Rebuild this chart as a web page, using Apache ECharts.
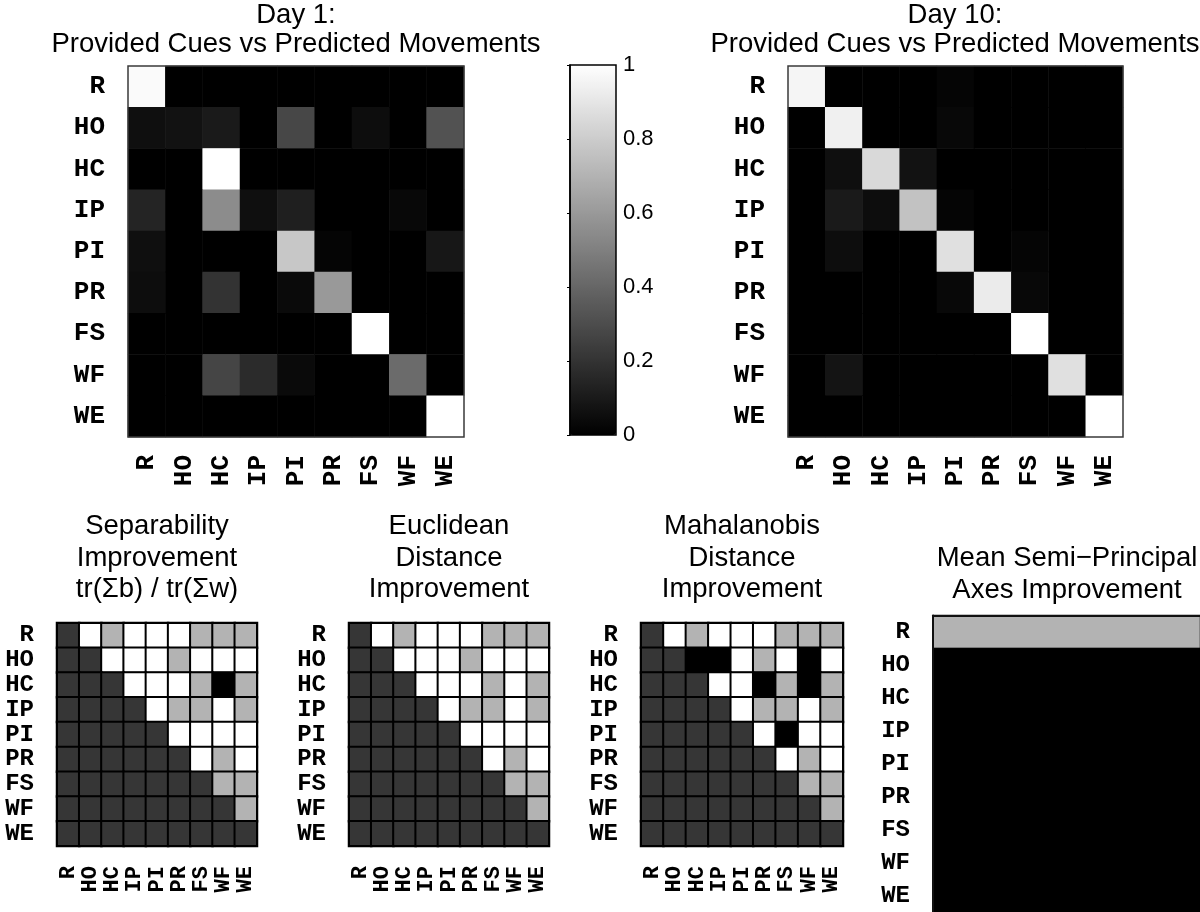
<!DOCTYPE html>
<html><head><meta charset="utf-8">
<script src="https://cdn.jsdelivr.net/npm/echarts/dist/echarts.min.js"></script>
<style>html,body{margin:0;padding:0;background:#fff}#c{width:1200px;height:912px}</style>
</head><body><div id="c"></div>
<script>
const labels = ['R','HO','HC','IP','PI','PR','FS','WF','WE'];
const colorbarTicks = [0, 0.2, 0.4, 0.6, 0.8, 1];

// Day 1 confusion matrix (rows: provided cue, cols: predicted movement)
const day1 = [
  [0.98,0,0,0,0,0,0,0,0],
  [0.06,0.07,0.10,0,0.28,0,0.05,0,0.32],
  [0,0,1.00,0,0,0,0,0,0],
  [0.14,0,0.55,0.06,0.12,0,0,0.03,0],
  [0.06,0,0,0,0.78,0.02,0,0,0.09],
  [0.05,0,0.20,0,0.04,0.60,0,0,0],
  [0,0,0,0,0,0,1.00,0,0],
  [0,0,0.27,0.17,0.04,0,0,0.42,0],
  [0,0,0,0,0,0,0,0,1.00]
];
// Day 10 confusion matrix
const day10 = [
  [0.96,0,0,0,0.02,0,0,0,0],
  [0,0.94,0,0,0.03,0,0,0,0],
  [0,0.06,0.85,0.07,0,0,0,0,0],
  [0,0.10,0.05,0.76,0.02,0,0,0,0],
  [0,0.05,0,0,0.88,0,0.02,0,0],
  [0,0,0,0,0.03,0.92,0.03,0,0],
  [0,0,0,0,0,0,1.00,0,0],
  [0,0.08,0,0,0,0,0,0.88,0],
  [0,0,0,0,0,0,0,0,1.00]
];
// Improvement matrices: 0.21 = n/a (lower triangle), 1 = improved, 0.7 = partial, 0 = worse
const separability = [
  [0.21,1,0.7,1,1,1,0.7,0.7,0.7],
  [0.21,0.21,1,1,1,0.7,1,1,1],
  [0.21,0.21,0.21,1,1,1,0.7,0,0.7],
  [0.21,0.21,0.21,0.21,1,0.7,0.7,1,0.7],
  [0.21,0.21,0.21,0.21,0.21,1,1,1,1],
  [0.21,0.21,0.21,0.21,0.21,0.21,1,0.7,1],
  [0.21,0.21,0.21,0.21,0.21,0.21,0.21,0.7,0.7],
  [0.21,0.21,0.21,0.21,0.21,0.21,0.21,0.21,0.7],
  [0.21,0.21,0.21,0.21,0.21,0.21,0.21,0.21,0.21]
];
const euclidean = [
  [0.21,1,0.7,1,1,1,0.7,0.7,0.7],
  [0.21,0.21,1,1,1,0.7,1,1,1],
  [0.21,0.21,0.21,1,1,1,0.7,1,0.7],
  [0.21,0.21,0.21,0.21,1,0.7,0.7,1,0.7],
  [0.21,0.21,0.21,0.21,0.21,1,1,1,1],
  [0.21,0.21,0.21,0.21,0.21,0.21,1,0.7,1],
  [0.21,0.21,0.21,0.21,0.21,0.21,0.21,0.7,0.7],
  [0.21,0.21,0.21,0.21,0.21,0.21,0.21,0.21,0.7],
  [0.21,0.21,0.21,0.21,0.21,0.21,0.21,0.21,0.21]
];
const mahalanobis = [
  [0.21,1,0.7,1,1,1,0.7,0.7,0.7],
  [0.21,0.21,0,0,1,0.7,1,0,1],
  [0.21,0.21,0.21,1,1,0,0.7,0,0.7],
  [0.21,0.21,0.21,0.21,1,0.7,0.7,1,0.7],
  [0.21,0.21,0.21,0.21,0.21,1,0,1,1],
  [0.21,0.21,0.21,0.21,0.21,0.21,1,0.7,1],
  [0.21,0.21,0.21,0.21,0.21,0.21,0.21,0.7,0.7],
  [0.21,0.21,0.21,0.21,0.21,0.21,0.21,0.21,0.7],
  [0.21,0.21,0.21,0.21,0.21,0.21,0.21,0.21,0.21]
];
const semiPrincipal = [0.7,0,0,0,0,0,0,0,0];

function toCells(m){ const out=[]; m.forEach((row,y)=>row.forEach((v,x)=>out.push([x,y,v]))); return out; }
const semiCells = semiPrincipal.map((v,y)=>[0,y,v]);

const mono = 'Liberation Mono';
const sans = 'Liberation Sans';

const grids = [
  {left:128, top:66, width:336, height:371, show:true, borderColor:'#3a3a3a', borderWidth:1.5, z:10},
  {left:788, top:66, width:335, height:371, show:true, borderColor:'#3a3a3a', borderWidth:1.5, z:10},
  {left:57, top:623, width:200, height:223, show:true, borderColor:'#000', borderWidth:2, z:10},
  {left:349, top:623, width:200, height:223, show:true, borderColor:'#000', borderWidth:2, z:10},
  {left:641, top:623, width:202, height:223, show:true, borderColor:'#000', borderWidth:2, z:10},
  {left:933, top:615.5, width:270, height:297, show:false},
  {left:570, top:65, width:46, height:370, show:true, borderColor:'#000', borderWidth:1.5, z:10}
];
const xSizes = [26,26,22,22,22,22];
const ySizes = [26,26,24,24,24,24];
const xAxes = [], yAxes = [];
for (let i=0;i<6;i++){
  const isD = i===5;
  xAxes.push({type:'category', gridIndex:i, data: isD ? [''] : labels, position: isD ? 'top' : 'bottom', z:10,
    axisLine:{show:isD, lineStyle:{color:'#111', width:2}}, axisTick:{show:false}, splitLine:{show:false},
    axisLabel:{show: !isD, rotate:90, interval:0, margin: i<2?18:20, fontFamily:mono, fontWeight:'bold', fontSize:xSizes[i], color:'#000'}});
  yAxes.push({type:'category', gridIndex:i, data: labels, inverse:true, z:10,
    axisLine:{show:isD, lineStyle:{color:'#111', width:2}}, axisTick:{show:false}, splitLine:{show:false},
    axisLabel:{interval:0, margin:23, fontFamily:mono, fontWeight:'bold', fontSize:ySizes[i], color:'#000'}});
}
xAxes.push({type:'value', gridIndex:6, show:false, min:0, max:1});
yAxes.push({type:'value', gridIndex:6, min:colorbarTicks[0], max:colorbarTicks[colorbarTicks.length-1], interval:0.2, position:'right', z:10,
  axisLine:{show:true, lineStyle:{color:'#000', width:1.5}}, axisTick:{show:true, inside:true, length:3, lineStyle:{color:'#000'}},
  splitLine:{show:false}, axisLabel:{margin:7, fontFamily:sans, fontSize:22, color:'#000', formatter:v=>String(v)}});

const mats = [toCells(day1), toCells(day10), toCells(separability), toCells(euclidean), toCells(mahalanobis), semiCells];
const series = mats.map((d,i)=>({
  type:'heatmap', xAxisIndex:i, yAxisIndex:i, data:d, progressive:0, silent:true,
  itemStyle: (i>=2 && i<=4) ? {borderColor:'#000', borderWidth:2} : (i===5 ? {borderColor:'#000', borderWidth:1} : {}),
  emphasis:{disabled:true}
}));

const tStyle = {fontFamily:sans, fontWeight:'normal', fontSize:27.5, color:'#000'};
const titles = [
  {text:'Day 1:\nProvided Cues vs Predicted Movements', left:296, top:1, lh:29},
  {text:'Day 10:\nProvided Cues vs Predicted Movements', left:955, top:1, lh:29},
  {text:'Separability\nImprovement\ntr(\u03A3b) / tr(\u03A3w)', left:157, top:511, lh:31.5},
  {text:'Euclidean\nDistance\nImprovement', left:449, top:511, lh:31.5},
  {text:'Mahalanobis\nDistance\nImprovement', left:742, top:511, lh:31.5},
  {text:'Mean Semi\u2212Principal\nAxes Improvement', left:1067, top:543, lh:31.5}
].map(t=>({text:t.text, left:t.left, top:t.top, textAlign:'center', padding:0, itemGap:0,
  textStyle:Object.assign({}, tStyle, {lineHeight:t.lh})}));

const chart = echarts.init(document.getElementById('c'), null, {renderer:'canvas'});
chart.setOption({
  animation:false,
  backgroundColor:'#fff',
  title: titles,
  grid: grids,
  xAxis: xAxes,
  yAxis: yAxes,
  visualMap: {type:'continuous', min:0, max:1, seriesIndex:[0,1,2,3,4,5], inRange:{color:['#000000','#ffffff']},
    orient:'vertical', left:570, top:65, itemWidth:46, itemHeight:370, padding:0, calculable:false, hoverLink:false, text:null, z:4},
  series: series
});
</script></body></html>
